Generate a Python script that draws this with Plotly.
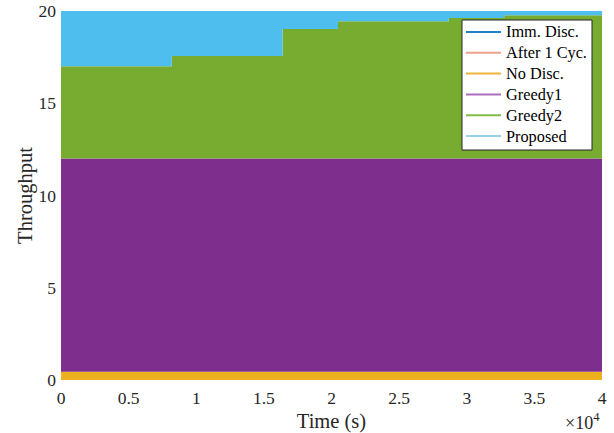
import plotly.graph_objects as go

# Data
time_s = [0, 8192, 16384, 20480, 28672, 32768, 40000]
imm_disc = [0.0, 0.0, 0.0, 0.0, 0.0, 0.0, 0.0]
after_1_cyc = [0.0, 0.0, 0.0, 0.0, 0.0, 0.0, 0.0]
no_disc = [0.45, 0.45, 0.45, 0.45, 0.45, 0.45, 0.45]
greedy1 = [11.55, 11.55, 11.55, 11.55, 11.55, 11.55, 11.55]
greedy2 = [5.0, 5.56, 7.02, 7.44, 7.62, 7.77, 7.77]
proposed = [3.0, 2.44, 0.98, 0.56, 0.38, 0.23, 0.23]

series_names = ["Imm. Disc.", "After 1 Cyc.", "No Disc.", "Greedy1", "Greedy2", "Proposed"]
series_vals = [imm_disc, after_1_cyc, no_disc, greedy1, greedy2, proposed]
fill_colors = ["#0072BD", "#D95319", "#EDB120", "#7E2F8E", "#77AC30", "#4DBEEE"]
legend_colors = ["#1E82C8", "#F0A08C", "#EBB43C", "#AA6EBE", "#82BE46", "#96D2F0"]

x_tickvals = [0, 5000, 10000, 15000, 20000, 25000, 30000, 35000, 40000]
x_ticktext = ["0", "0.5", "1", "1.5", "2", "2.5", "3", "3.5", "4"]
y_tickvals = [0, 5, 10, 15, 20]

FONT = "Liberation Serif"
TXT = "#262626"

# plot-area geometry in pixels (for placing the legend box)
W, H = 614, 433
ML, MR, MT, MB = 61, 12, 11, 53
PW, PH = W - ML - MR, H - MT - MB


def px(xp):
    return (xp - ML) / PW


def py(yp):
    return (H - MB - yp) / PH


fig = go.Figure()
for name, vals, col in zip(series_names, series_vals, fill_colors):
    fig.add_trace(go.Scatter(
        x=time_s, y=vals, stackgroup="one", mode="lines",
        line=dict(width=0, color=col, shape="hv"),
        fillcolor=col, showlegend=False, hoverinfo="skip", name=name))

# Legend (drawn as box + sample lines + labels)
shapes = [dict(type="rect", xref="paper", yref="paper",
               x0=px(462), x1=px(592), y0=py(150), y1=py(20),
               fillcolor="white", line=dict(color="#262626", width=1), layer="above")]
annotations = []
row0, step = 32.0, 20.8
for i, (name, col) in enumerate(zip(series_names, legend_colors)):
    yr = row0 + i * step
    shapes.append(dict(type="line", xref="paper", yref="paper",
                       x0=px(466), x1=px(501), y0=py(yr), y1=py(yr),
                       line=dict(color=col, width=2), layer="above"))
    annotations.append(dict(text=name, xref="paper", yref="paper",
                            x=px(504), y=py(yr), xanchor="left", yanchor="middle",
                            showarrow=False,
                            font=dict(family=FONT, size=16.3, color="black")))

annotations.append(dict(
    text="×10<sup>4</sup>", xref="paper", yref="paper",
    x=1.0, y=-0.075, xanchor="right", yanchor="top", showarrow=False,
    font=dict(family=FONT, size=18, color=TXT)))

fig.update_layout(
    width=W, height=H,
    margin=dict(l=ML, r=MR, t=MT, b=MB),
    paper_bgcolor="white", plot_bgcolor="white",
    font=dict(family=FONT, size=17.5, color=TXT),
    showlegend=False,
    xaxis=dict(
        range=[0, 40000], tickvals=x_tickvals, ticktext=x_ticktext,
        showgrid=False, zeroline=False, showline=False, ticks="",
        automargin=False, ticklabelstandoff=5,
        title=dict(text="Time (s)", standoff=10, font=dict(family=FONT, size=20.5)),
        tickfont=dict(family=FONT, size=17.5),
    ),
    yaxis=dict(
        range=[0, 20], tickvals=y_tickvals,
        showgrid=False, zeroline=False, showline=False, ticks="",
        automargin=False, ticklabelstandoff=4,
        title=dict(text="Throughput", standoff=0, font=dict(family=FONT, size=20.5)),
        tickfont=dict(family=FONT, size=17.5),
    ),
    shapes=shapes,
    annotations=annotations,
)

fig.write_html("out.html")
